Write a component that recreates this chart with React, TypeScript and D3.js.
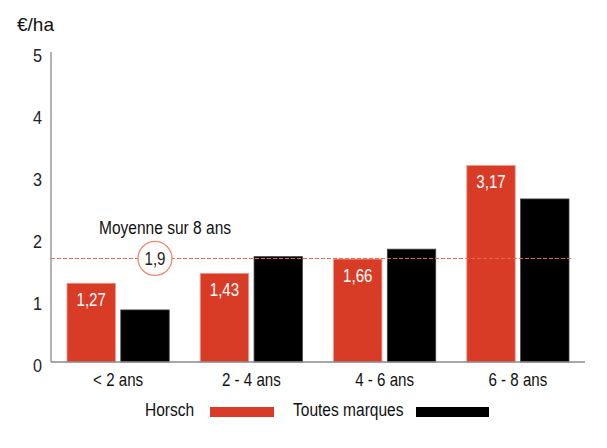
import * as d3 from "d3";
import { useRef, useEffect } from "react";

// data
const categories = ["< 2 ans", "2 - 4 ans", "4 - 6 ans", "6 - 8 ans"];
const seriesNames = ["Horsch", "Toutes marques"];
const horschValues = [1.27, 1.43, 1.66, 3.17];
const allBrandsValues = [0.84, 1.7, 1.82, 2.63];
const horschLabels = ["1,27", "1,43", "1,66", "3,17"];
const yTicks = [0, 1, 2, 3, 4, 5];
const meanValue = 1.67;
const meanLabel = "1,9";
const meanTitle = "Moyenne sur 8 ans";
const unitLabel = "€/ha";

const RED = "#d83c26";
const FONT = "'Liberation Sans', Arial, sans-serif";
const SQUEEZE = 0.84; // narrow look of the original font

function App() {
  const ref = useRef<SVGSVGElement>(null);
  const width = 607;
  const height = 448;

  useEffect(() => {
    draw();
  }, []);

  // condensed text: translate to (x,y) then squeeze horizontally
  const label = (
    g: any,
    x: number,
    y: number,
    txt: string,
    size: number,
    fill: string,
    anchor = "start",
    squeeze = SQUEEZE
  ) =>
    g
      .append("text")
      .attr("transform", `translate(${x},${y}) scale(${squeeze},1)`)
      .attr("text-anchor", anchor)
      .attr("font-size", size)
      .attr("fill", fill)
      .text(txt);

  const draw = () => {
    const svg = d3.select(ref.current);
    svg.selectAll("*").remove();
    svg.style("font-family", FONT);

    const y = d3.scaleLinear().domain([0, 5]).range([362, 52]);
    const x = d3
      .scaleBand()
      .domain(categories)
      .range([51, 585])
      .paddingInner(0.233)
      .paddingOuter(0.12);
    const xSub = d3
      .scaleBand()
      .domain(seriesNames)
      .range([0, x.bandwidth()])
      .paddingInner(0.1);

    // unit label
    label(svg, 17, 31, unitLabel, 19, "#111", "start", 1);

    // y tick labels
    yTicks.forEach((d) => label(svg, 42, y(d) + 10, String(d), 18, "#222", "end", 0.9));

    // bars
    const series = [
      { name: seriesNames[0], values: horschValues, color: RED, edge: "#ee9a8a" },
      { name: seriesNames[1], values: allBrandsValues, color: "#000", edge: "#444" },
    ];
    series.forEach((s) => {
      svg
        .append("g")
        .selectAll("rect")
        .data(categories)
        .join("rect")
        .attr("x", (c) => (x(c) as number) + (xSub(s.name) as number))
        .attr("y", (c, i) => y(s.values[i]))
        .attr("width", xSub.bandwidth())
        .attr("height", (c, i) => y(0) - y(s.values[i]))
        .attr("fill", s.color)
        .attr("stroke", s.edge)
        .attr("stroke-width", 0.8);
    });

    // mean line
    svg
      .append("line")
      .attr("x1", 51)
      .attr("x2", 571)
      .attr("y1", y(meanValue))
      .attr("y2", y(meanValue))
      .attr("stroke", "#ec6a52")
      .attr("stroke-width", 1)
      .attr("stroke-dasharray", "4,2");

    // value labels inside red bars
    categories.forEach((c, i) =>
      label(
        svg,
        (x(c) as number) + (xSub(seriesNames[0]) as number) + xSub.bandwidth() / 2,
        y(horschValues[i]) + 23,
        horschLabels[i],
        18,
        "#fff",
        "middle"
      )
    );

    // axes lines
    svg
      .append("line")
      .attr("x1", 51)
      .attr("x2", 51)
      .attr("y1", y(5))
      .attr("y2", y(0))
      .attr("stroke", "#9a9a9a")
      .attr("stroke-width", 1.5);
    svg
      .append("line")
      .attr("x1", 51)
      .attr("x2", 585)
      .attr("y1", y(0))
      .attr("y2", y(0))
      .attr("stroke", "#8a8a8a")
      .attr("stroke-width", 1.5);

    // x labels
    categories.forEach((c) =>
      label(svg, (x(c) as number) + x.bandwidth() / 2, 386, c, 18, "#111", "middle")
    );

    // mean annotation
    const cx = 155;
    label(svg, 165, 234, meanTitle, 18.5, "#111", "middle");
    svg
      .append("circle")
      .attr("cx", cx)
      .attr("cy", y(meanValue))
      .attr("r", 17)
      .attr("fill", "#fff")
      .attr("stroke", "#ec8a70")
      .attr("stroke-width", 1.3);
    label(svg, cx, y(meanValue) + 6.5, meanLabel, 18, "#222", "middle");

    // legend
    const legend = [
      { name: seriesNames[0], tx: 145, sx: 210, sw: 64, color: RED },
      { name: seriesNames[1], tx: 293, sx: 416, sw: 73, color: "#000" },
    ];
    legend.forEach((l) => {
      label(svg, l.tx, 415.5, l.name, 18.5, "#111");
      svg
        .append("rect")
        .attr("x", l.sx)
        .attr("y", 407)
        .attr("width", l.sw)
        .attr("height", 10)
        .attr("fill", l.color);
    });
  };

  return (
    <div style={{ position: "absolute", left: 0, top: 0 }}>
      <svg ref={ref} width={width} height={height}></svg>
    </div>
  );
}

export default App;
